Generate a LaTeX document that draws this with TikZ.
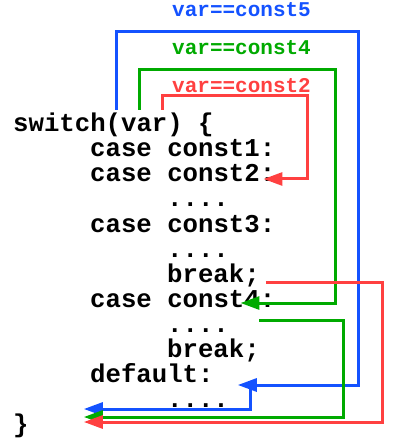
\documentclass[tikz,border=0pt]{standalone}
\usepackage{fontspec}
\setmonofont{Liberation Mono}
\usetikzlibrary{arrows.meta,positioning}
\definecolor{myred}{RGB}{255,64,64}
\definecolor{mygreen}{RGB}{0,170,0}
\definecolor{myblue}{RGB}{20,82,255}

\begin{document}
\begin{tikzpicture}[%
        x=1pt, y=-1pt,
        every node/.style={anchor=base west, inner sep=0pt,
          font=\fontsize{25.7}{25}\selectfont\ttfamily\bfseries},
        lbl/.style={font=\fontsize{21}{21}\selectfont\ttfamily\bfseries},
        jump/.style={line width=3pt, ->},
        >={Triangle[length=19pt,width=13pt]}
      ]
      \useasboundingbox (0,0) rectangle (410,443);
      % labels
      \node [lbl, text=myblue] (l5) at (172,17) {var==const5};
      \node [lbl, text=mygreen] (l4) at (172,55) {var==const4};
      \node [lbl, text=myred] (l2) at (172,93) {var==const2};
      % code
      \node (0) at (13,132) {switch(var) \{};
      \node (1) at (90,157) {case const1:};
      \node (2) at (90,182) {case const2:};
      \node (3) at (167,207) {....};
      \node (4) at (90,232) {case const3:};
      \node (5) at (167,257) {....};
      \node (6) at (167,282) {break;};
      \node (7) at (90,307) {case const4:};
      \node (8) at (167,332) {....};
      \node (9) at (167,357) {break;};
      \node (10) at (90,382) {default:};
      \node (11) at (167,407) {....};
      \node (12) at (13,432) {\}};
      % jumps
      \coordinate (r0) at (162,110);
      \coordinate (r1) at (307,96);
      \coordinate (r2) at ([xshift=-12pt,yshift=3pt]2.base east);
      \coordinate (g0) at (139,110);
      \coordinate (g1) at (335,70);
      \coordinate (g2) at ([xshift=-35pt,yshift=4pt]7.base east);
      \coordinate (b0) at (116,110);
      \coordinate (b1) at (358,32);
      \coordinate (b2) at ([xshift=24pt,yshift=-3pt]10.base east);
      \draw [jump, myred] (r0) |- (r1) |- (r2);
      \draw [jump, mygreen] (g0) |- (g1) |- (g2);
      \draw [jump, myblue] (b0) |- (b1) |- (b2);
      % fall through to the end
      \coordinate (b3) at (250,385);
      \coordinate (b4) at ([xshift=55pt,yshift=23pt]12.base east);
      \coordinate (g3) at ([xshift=30pt,yshift=12pt]8.base east);
      \coordinate (g4) at (343,417);
      \coordinate (g5) at ([xshift=55pt,yshift=15pt]12.base east);
      \coordinate (r3) at ([xshift=6pt]6.base east);
      \coordinate (r4) at (382,422);
      \coordinate (r5) at ([xshift=55pt,yshift=10pt]12.base east);
      \draw [jump, myblue] (b3) |- (b4);
      \draw [jump, mygreen] (g3) -| (g4) -- (g5);
      \draw [jump, myred] (r3) -| (r4) -- (r5);
    \end{tikzpicture}
\end{document}
